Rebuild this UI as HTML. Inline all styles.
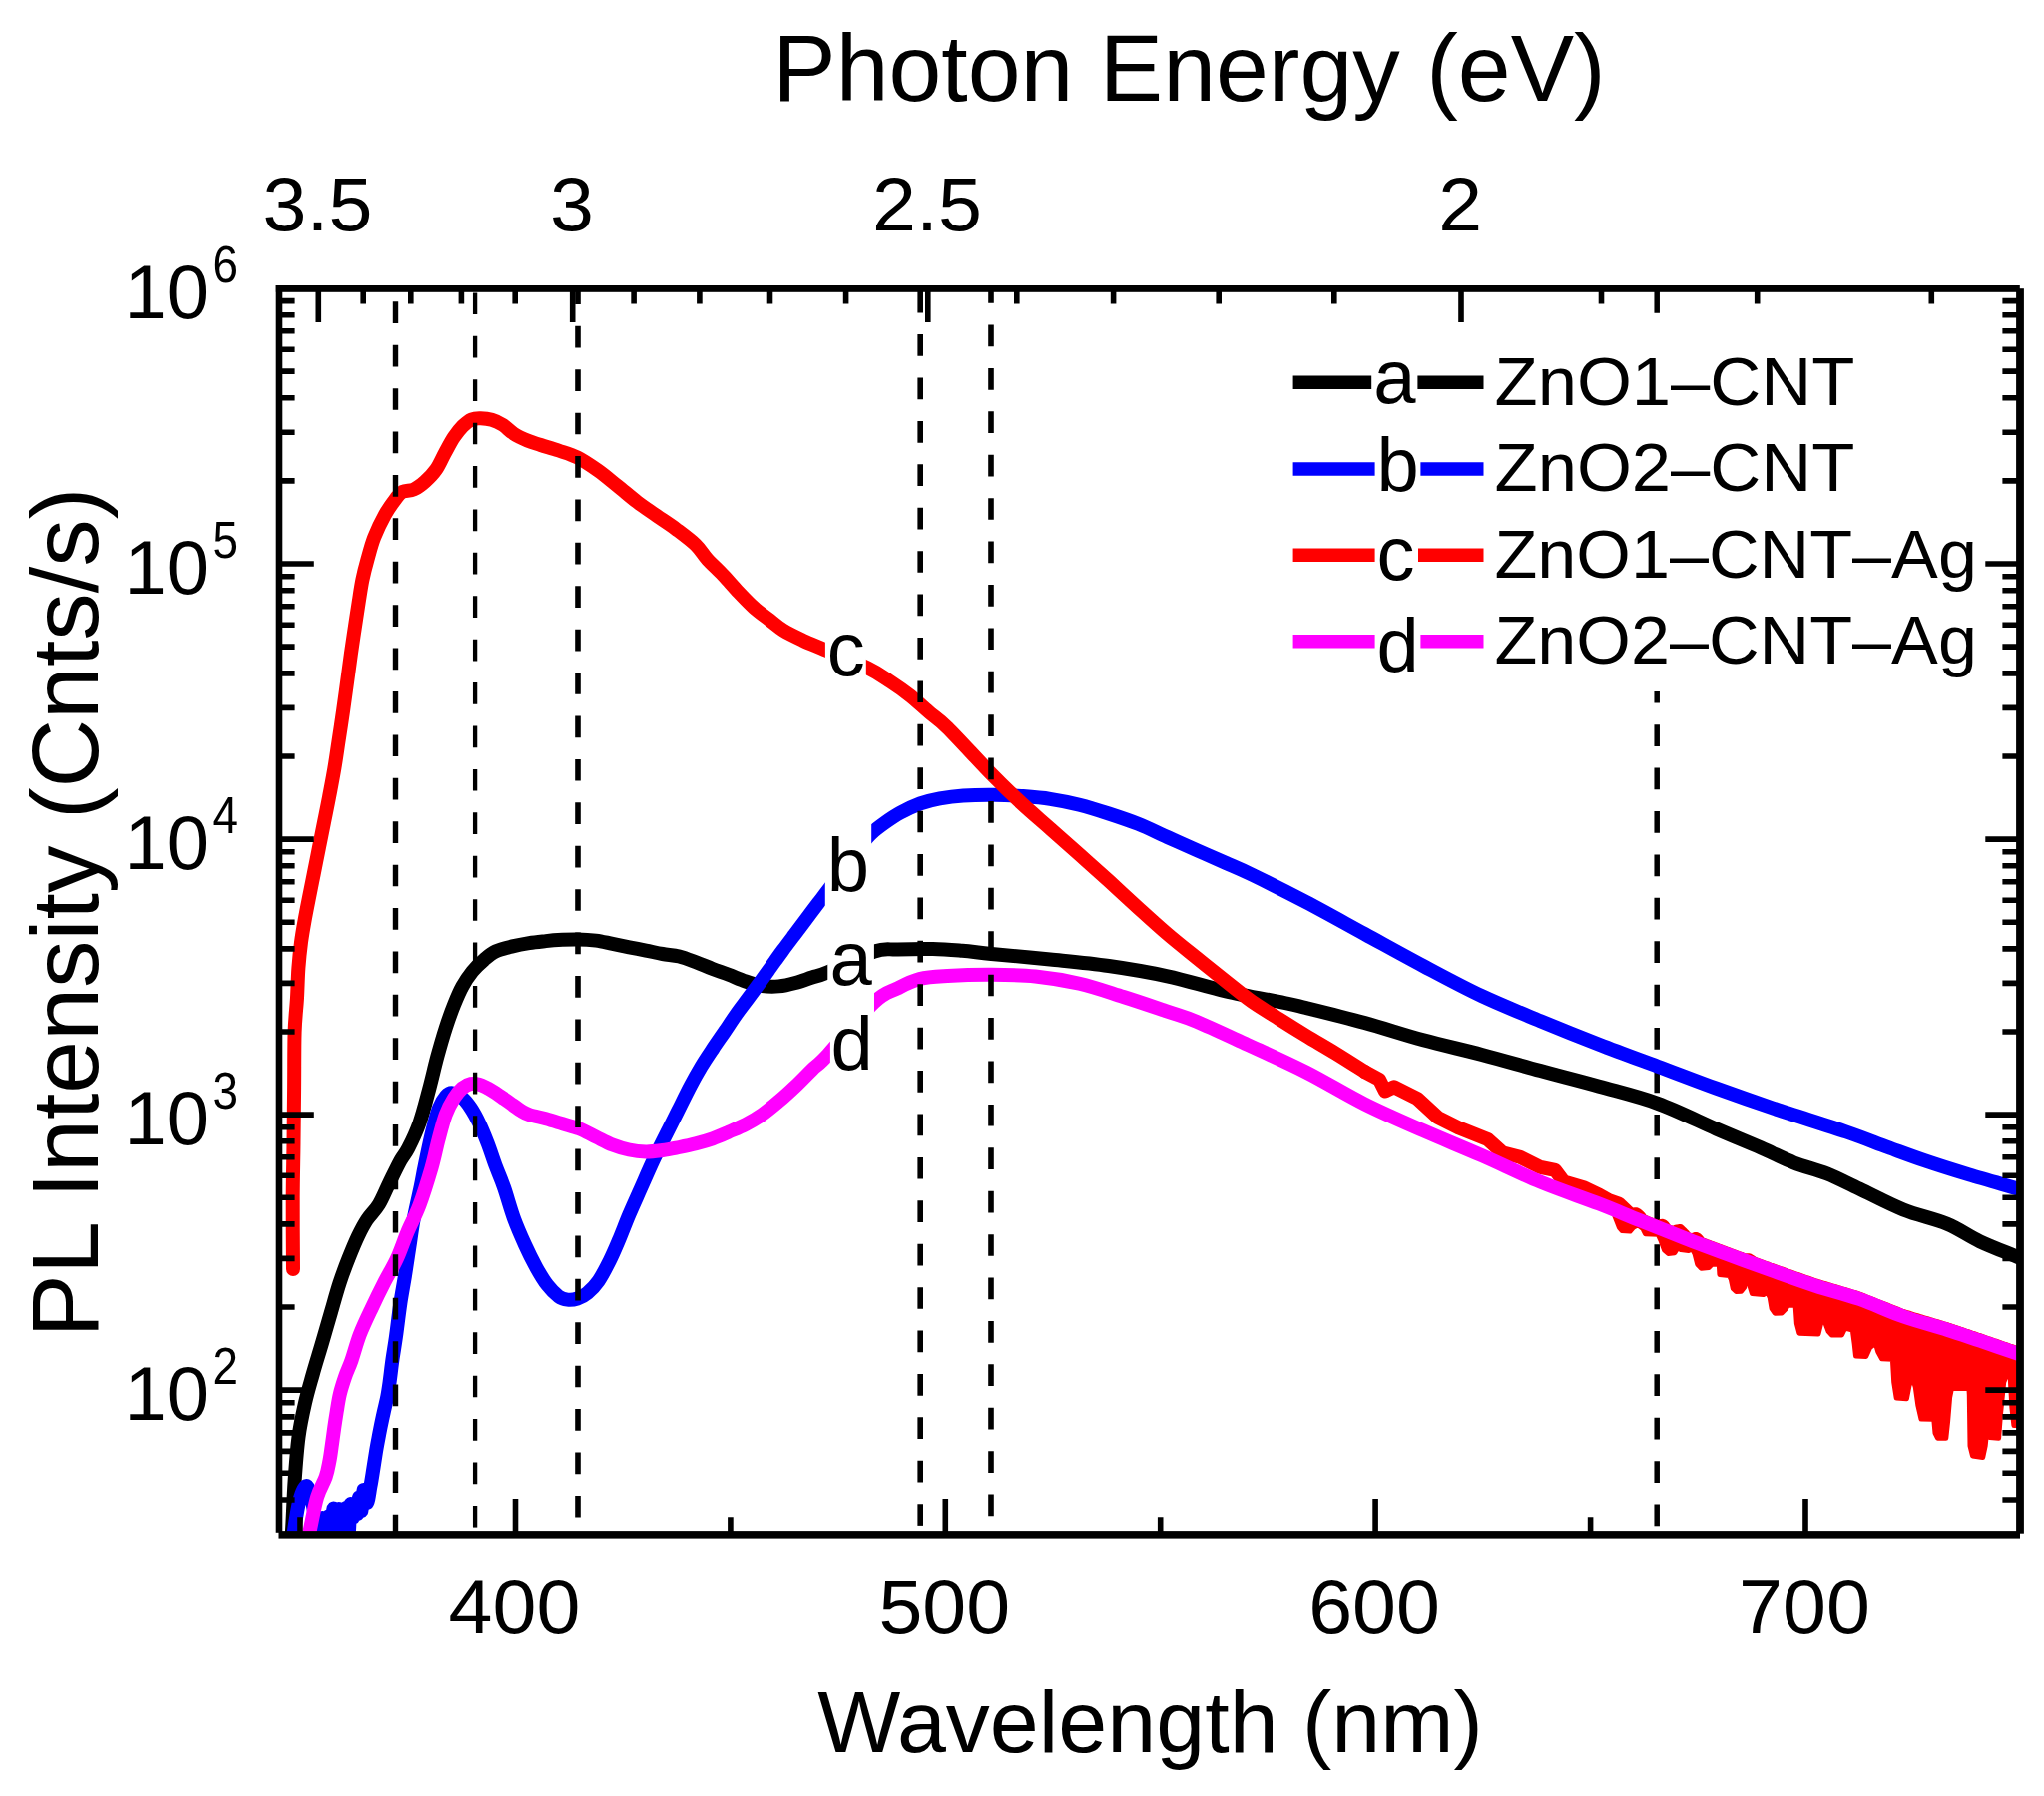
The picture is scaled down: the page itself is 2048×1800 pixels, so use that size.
<!DOCTYPE html>
<html lang="en"><head><meta charset="utf-8"><title>PL spectra</title>
<style>html,body{margin:0;padding:0;background:#fff;overflow:hidden}svg{display:block}text{font-family:"Liberation Sans", Arial, Helvetica, sans-serif;fill:#000}</style></head><body>
<svg width="2048" height="1800" viewBox="0 0 2048 1800">
<rect x="0" y="0" width="2048" height="1800" fill="#fff"/>
<defs><clipPath id="pc"><rect x="280.0" y="289.0" width="1744.0" height="1249.0"/></clipPath></defs>
<path d="M1660.2 248.7V1538.0" stroke="#000" stroke-width="5.5" stroke-dasharray="21.70 21.71" fill="none" clip-path="url(#pc)"/>
<g clip-path="url(#pc)" fill="none" stroke-linejoin="round" stroke-linecap="round" stroke-width="14.0">
<path stroke="#000" d="M291.0 1560.0C291.3 1555.7 292.2 1546.7 293.0 1534.0C293.8 1521.3 294.5 1499.7 295.6 1484.0C296.7 1468.3 297.8 1453.0 299.5 1440.0C301.2 1427.0 303.6 1416.5 306.0 1406.0C308.4 1395.5 311.0 1387.0 313.8 1377.0C316.6 1367.0 320.0 1356.3 323.0 1346.0C326.0 1335.7 329.1 1325.0 332.0 1315.0C334.9 1305.0 337.6 1294.9 340.5 1286.0C343.4 1277.1 346.4 1269.2 349.5 1261.4C352.6 1253.6 355.9 1245.5 359.0 1239.0C362.1 1232.5 364.5 1227.8 368.0 1222.5C371.5 1217.2 376.3 1213.2 380.0 1207.0C383.7 1200.8 386.7 1192.9 390.3 1185.6C393.9 1178.3 398.2 1169.2 401.4 1163.4C404.5 1157.6 406.0 1157.2 409.2 1151.0C412.4 1144.8 416.8 1135.8 420.3 1126.0C423.8 1116.2 427.0 1103.3 430.0 1092.1C433.0 1080.9 435.6 1069.0 438.4 1058.7C441.2 1048.4 443.9 1038.9 446.7 1030.3C449.5 1021.7 452.3 1013.9 455.1 1006.9C457.9 999.9 460.3 994.1 463.4 988.5C466.4 982.9 469.8 978.0 473.4 973.5C477.0 969.0 481.2 965.1 485.1 961.8C489.0 958.4 492.1 955.6 496.8 953.4C501.5 951.2 507.9 949.8 513.5 948.4C519.1 947.0 524.6 946.0 530.2 945.1C535.8 944.2 541.3 943.7 546.9 943.1C552.5 942.5 558.3 942.1 563.6 941.8C568.9 941.5 573.1 941.3 578.7 941.4C584.3 941.5 591.2 941.9 597.0 942.6C602.8 943.4 608.1 944.8 613.7 945.9C619.3 947.0 624.8 948.2 630.4 949.3C636.0 950.4 641.5 951.5 647.1 952.6C652.7 953.7 658.2 955.0 663.8 956.0C669.4 957.0 674.9 957.1 680.5 958.5C686.1 959.9 691.6 962.2 697.2 964.3C702.8 966.4 708.4 968.9 713.9 971.0C719.4 973.1 724.5 974.7 730.0 976.8C735.5 978.9 741.4 981.6 747.0 983.5C752.6 985.4 758.1 987.2 763.7 988.0C769.3 988.8 774.8 988.9 780.4 988.4C786.0 987.9 791.5 986.5 797.1 985.0C802.7 983.5 808.5 981.2 813.8 979.5C819.1 977.8 818.7 978.8 829.1 974.5C839.5 970.2 864.4 957.3 876.1 953.5C887.9 949.7 889.8 951.9 899.6 951.5C909.4 951.1 924.0 950.8 934.8 951.0C945.6 951.2 954.4 952.0 964.2 952.8C974.0 953.6 978.8 954.5 993.5 956.0C1008.2 957.5 1032.6 959.5 1052.2 961.5C1071.8 963.5 1091.3 965.2 1110.9 968.0C1130.5 970.8 1150.0 974.0 1169.6 978.3C1189.2 982.5 1208.7 989.0 1228.3 993.5C1247.9 998.0 1273.6 1002.2 1287.0 1005.0C1300.4 1007.8 1295.3 1006.7 1308.7 1010.0C1322.1 1013.3 1347.8 1019.6 1367.4 1025.0C1387.0 1030.4 1406.5 1037.0 1426.1 1042.3C1445.7 1047.6 1465.2 1051.8 1484.8 1056.9C1504.4 1062.0 1523.9 1067.8 1543.5 1073.1C1563.1 1078.4 1582.6 1083.2 1602.2 1088.7C1621.8 1094.2 1641.3 1098.7 1660.9 1105.8C1680.5 1112.9 1702.3 1124.0 1719.6 1131.5C1736.9 1139.0 1751.5 1144.8 1764.5 1150.5C1777.5 1156.2 1786.5 1161.1 1797.5 1165.4C1808.5 1169.7 1819.4 1171.9 1830.4 1176.3C1841.4 1180.7 1850.5 1185.7 1863.3 1191.7C1876.1 1197.7 1892.6 1206.7 1907.2 1212.5C1921.8 1218.3 1938.2 1221.5 1951.0 1226.8C1963.8 1232.1 1971.7 1238.6 1983.9 1244.3C1996.1 1250.0 2014.7 1257.0 2024.0 1261.0C2033.3 1265.0 2037.3 1266.8 2040.0 1268.0"/>
<path stroke="#00f" d="M291.0 1560.0C291.5 1556.7 292.5 1549.1 294.0 1540.0C295.5 1530.9 297.9 1513.8 300.0 1505.3C302.1 1496.8 304.8 1489.8 306.9 1489.2C309.0 1488.7 310.7 1495.2 312.5 1502.0C314.3 1508.8 316.2 1522.0 317.5 1530.0C318.8 1538.0 319.5 1551.5 320.5 1550.0C321.5 1548.5 322.5 1521.0 323.5 1521.0C324.5 1521.0 325.5 1550.2 326.5 1550.0C327.5 1549.8 328.6 1519.8 329.5 1519.5C330.4 1519.2 331.2 1549.3 332.0 1548.0C332.8 1546.7 333.6 1512.2 334.5 1511.5C335.4 1510.8 336.6 1543.9 337.5 1544.0C338.4 1544.1 339.2 1511.7 340.0 1512.0C340.8 1512.3 341.7 1542.8 342.5 1546.0C343.3 1549.2 344.2 1536.8 345.0 1531.0C345.8 1525.2 346.4 1509.8 347.2 1511.0C347.9 1512.2 348.8 1538.6 349.5 1538.0C350.2 1537.4 350.8 1510.3 351.5 1507.5C352.2 1504.7 353.2 1521.2 354.0 1521.0C354.8 1520.8 355.2 1507.2 356.0 1506.5C356.8 1505.8 357.8 1518.0 358.5 1517.0C359.2 1516.0 359.3 1501.0 360.0 1500.5C360.7 1500.0 361.8 1515.2 362.5 1514.0C363.2 1512.8 363.6 1494.3 364.5 1493.0C365.4 1491.7 366.8 1506.7 368.0 1506.0C369.2 1505.3 370.4 1494.7 371.5 1489.0C372.6 1483.3 373.4 1477.5 374.3 1472.0C375.2 1466.5 376.0 1461.0 376.8 1456.0C377.6 1451.0 378.5 1446.3 379.3 1442.0C380.1 1437.7 380.7 1434.5 381.6 1430.0C382.5 1425.5 383.7 1420.0 384.8 1415.0C385.9 1410.0 387.2 1405.0 388.2 1400.0C389.2 1395.0 389.7 1391.4 390.6 1385.0C391.5 1378.6 392.5 1369.2 393.6 1361.6C394.7 1354.0 395.7 1348.7 397.0 1339.4C398.3 1330.1 399.9 1315.9 401.4 1305.9C402.9 1295.9 404.4 1288.5 405.9 1279.2C407.4 1269.9 408.8 1259.9 410.3 1250.2C411.8 1240.5 412.9 1231.3 414.8 1221.3C416.7 1211.3 419.6 1199.0 421.5 1190.1C423.4 1181.2 423.9 1177.1 425.9 1167.7C427.9 1158.3 430.9 1143.3 433.3 1133.8C435.7 1124.3 437.8 1116.3 440.0 1110.5C442.2 1104.7 444.5 1101.3 446.7 1098.8C448.9 1096.3 450.6 1095.1 453.4 1095.4C456.2 1095.7 460.3 1097.9 463.4 1100.4C466.5 1102.9 469.0 1106.3 471.8 1110.5C474.6 1114.7 477.3 1119.7 480.1 1125.5C482.9 1131.3 485.7 1138.3 488.5 1145.5C491.3 1152.7 494.0 1161.4 496.8 1168.9C499.6 1176.4 502.2 1181.9 505.2 1190.6C508.2 1199.3 511.5 1211.7 515.0 1221.3C518.5 1230.9 522.5 1239.8 526.2 1248.0C529.9 1256.2 533.6 1263.6 537.3 1270.3C541.0 1277.0 544.8 1283.3 548.5 1288.1C552.2 1292.9 556.3 1296.9 559.6 1299.3C562.9 1301.7 565.4 1302.2 568.5 1302.6C571.6 1303.0 575.1 1302.6 578.5 1301.5C581.9 1300.4 585.1 1298.9 588.6 1295.9C592.1 1292.9 596.0 1289.1 599.7 1283.7C603.4 1278.3 607.4 1270.4 610.8 1263.6C614.2 1256.8 616.7 1250.8 620.0 1243.0C623.3 1235.2 626.8 1225.7 630.5 1217.0C634.2 1208.3 638.1 1199.8 642.0 1191.0C645.9 1182.2 650.0 1172.6 654.0 1164.0C658.0 1155.4 661.8 1148.0 666.0 1139.6C670.2 1131.2 674.7 1122.3 679.0 1113.7C683.3 1105.1 688.1 1095.2 692.0 1087.8C695.9 1080.3 698.8 1075.2 702.5 1069.0C706.2 1062.8 710.5 1056.5 714.5 1050.5C718.5 1044.5 722.6 1038.8 726.5 1033.0C730.4 1027.2 734.2 1021.4 738.0 1016.0C741.8 1010.6 745.7 1005.7 749.5 1000.5C753.3 995.3 757.2 990.2 761.0 985.0C764.8 979.8 768.7 974.3 772.5 969.0C776.3 963.7 780.1 958.3 784.0 953.0C787.9 947.7 792.0 942.3 796.0 937.0C800.0 931.7 804.0 926.3 808.0 921.0C812.0 915.7 816.9 909.1 820.0 905.0C823.1 900.9 824.0 899.8 826.5 896.5C829.0 893.2 831.1 890.4 835.0 885.0C838.9 879.6 845.5 870.2 850.0 864.0C854.5 857.8 858.1 852.8 862.0 848.0C865.9 843.2 869.1 839.0 873.3 835.1C877.5 831.2 882.1 827.9 887.0 824.4C891.9 820.9 896.7 817.6 902.6 814.4C908.5 811.2 915.7 807.8 922.2 805.4C928.7 803.0 934.6 801.6 941.8 800.3C949.0 799.0 956.1 798.0 965.2 797.4C974.3 796.8 987.0 796.6 996.6 796.7C1006.2 796.8 1013.6 797.2 1022.9 797.9C1032.2 798.6 1042.4 799.3 1052.2 800.8C1062.0 802.3 1071.8 804.2 1081.6 806.7C1091.4 809.2 1101.1 812.3 1110.9 815.5C1120.7 818.7 1130.5 821.9 1140.3 825.8C1150.1 829.7 1159.8 834.6 1169.6 839.0C1179.4 843.4 1189.2 847.9 1199.0 852.2C1208.8 856.5 1219.1 861.0 1228.3 865.0C1237.5 869.0 1240.6 870.0 1254.0 876.5C1267.4 883.0 1289.8 894.1 1308.7 904.0C1327.6 913.9 1347.8 925.3 1367.4 936.0C1387.0 946.7 1406.5 957.6 1426.1 968.0C1445.7 978.4 1465.2 989.0 1484.8 998.2C1504.4 1007.4 1523.9 1015.1 1543.5 1023.2C1563.1 1031.3 1582.6 1039.1 1602.2 1046.7C1621.8 1054.3 1641.3 1061.4 1660.9 1068.7C1680.5 1076.0 1700.0 1083.6 1719.6 1090.7C1739.2 1097.8 1756.6 1103.9 1778.3 1111.2C1800.0 1118.5 1831.1 1128.0 1850.0 1134.5C1868.9 1141.0 1878.6 1145.2 1891.8 1150.0C1905.0 1154.8 1915.5 1158.8 1929.0 1163.4C1942.5 1168.0 1957.2 1172.6 1973.0 1177.4C1988.8 1182.2 2012.8 1188.7 2024.0 1192.0C2035.2 1195.3 2037.3 1196.2 2040.0 1197.0"/>
<path stroke="#f00" d="M294.0 1272.0C293.9 1260.0 293.6 1221.1 293.7 1200.0C293.8 1178.9 294.3 1163.8 294.5 1145.4C294.7 1127.0 294.9 1108.3 295.1 1089.8C295.3 1071.2 295.1 1049.1 295.6 1034.1C296.1 1019.1 297.4 1010.7 298.0 1000.0C298.6 989.3 298.7 979.3 299.4 970.0C300.1 960.7 301.0 952.1 302.0 944.4C303.0 936.7 304.0 931.1 305.3 923.9C306.6 916.6 308.1 909.0 309.7 900.9C311.3 892.8 313.1 883.8 314.8 875.3C316.5 866.8 318.2 858.2 319.9 849.7C321.6 841.2 323.3 832.6 325.0 824.1C326.7 815.6 328.4 807.5 330.1 798.5C331.8 789.5 333.7 779.8 335.3 770.4C336.9 761.0 338.1 752.0 339.6 742.2C341.1 732.4 342.8 721.3 344.2 711.5C345.6 701.7 346.8 692.7 348.1 683.3C349.4 673.9 350.6 664.2 351.9 655.2C353.2 646.2 354.4 638.1 355.7 629.6C357.0 621.1 358.3 612.1 359.6 604.0C360.9 595.9 361.9 588.2 363.4 581.0C364.9 573.8 366.5 567.6 368.5 560.5C370.5 553.4 372.3 545.9 375.2 538.5C378.1 531.1 382.2 522.6 385.8 516.1C389.4 509.6 394.0 503.3 397.0 499.4C400.0 495.5 400.7 494.2 403.7 492.7C406.7 491.2 411.1 492.2 414.8 490.5C418.5 488.8 422.2 486.0 425.9 482.7C429.6 479.4 433.8 475.3 437.1 470.5C440.5 465.7 443.0 459.2 446.0 453.8C449.0 448.4 451.9 442.7 454.9 438.2C457.9 433.7 460.8 430.0 463.8 427.0C466.8 424.0 469.7 421.6 472.7 420.3C475.7 419.0 478.2 419.1 481.6 419.2C485.0 419.3 489.1 419.7 492.8 420.8C496.5 421.9 500.2 423.6 503.9 425.9C507.6 428.2 510.9 432.2 515.0 434.8C519.1 437.4 523.9 439.6 528.4 441.5C532.9 443.4 536.6 444.3 541.8 446.0C547.0 447.7 553.5 449.4 559.6 451.5C565.7 453.6 572.0 455.2 578.6 458.5C585.2 461.8 592.4 466.8 599.1 471.5C605.8 476.2 612.2 481.8 618.7 487.0C625.2 492.2 631.8 498.0 638.3 503.0C644.8 508.0 651.3 512.2 657.8 516.8C664.3 521.3 670.9 525.4 677.4 530.3C683.9 535.2 691.8 541.0 697.0 546.0C702.2 551.0 704.1 555.5 708.7 560.5C713.3 565.5 719.2 570.8 724.4 576.3C729.6 581.8 734.8 588.0 740.0 593.5C745.2 599.0 750.5 604.6 755.7 609.3C760.9 613.9 766.4 617.6 771.3 621.4C776.2 625.1 779.5 628.4 785.0 631.8C790.5 635.2 797.8 638.6 804.6 641.8C811.5 645.0 815.3 646.4 826.1 651.0C836.9 655.6 858.1 663.9 869.2 669.3C880.3 674.7 885.5 678.8 892.7 683.5C899.9 688.2 905.8 692.3 912.3 697.5C918.8 702.7 925.6 709.2 931.8 714.5C938.0 719.8 939.2 719.3 949.5 729.5C959.8 739.7 981.3 763.4 993.5 775.9C1005.7 788.4 1013.1 795.4 1022.9 804.5C1032.7 813.6 1042.4 821.7 1052.2 830.4C1062.0 839.1 1071.8 847.8 1081.6 856.5C1091.4 865.2 1101.1 873.9 1110.9 882.8C1120.7 891.7 1130.5 900.9 1140.3 909.8C1150.1 918.7 1159.8 927.6 1169.6 936.0C1179.4 944.4 1189.2 952.1 1199.0 960.0C1208.8 967.9 1219.1 976.2 1228.3 983.5C1237.5 990.8 1244.9 997.1 1254.0 1003.5C1263.1 1009.9 1273.9 1016.2 1283.0 1022.0C1292.1 1027.8 1299.5 1032.4 1308.7 1038.0C1317.9 1043.6 1328.3 1049.5 1338.1 1055.5C1347.9 1061.5 1362.5 1070.9 1367.4 1074.0"/>
<path stroke="#f00" d="M1367.4 1074.0L1382.1 1081.9L1388.0 1093.6L1396.8 1089.2L1420.2 1101.0L1440.8 1120.0L1461.3 1130.3L1490.7 1142.0L1505.4 1155.3L1523.0 1159.7L1543.5 1169.9L1558.2 1172.9L1567.0 1184.6L1587.5 1190.5L1602.2 1197.5L1612.0 1203.0L1622.0 1206.5L1632.0 1216.0"/>
<path stroke="#f00" stroke-width="5" fill="#f00" d="M1618.0 1204.9L1620.0 1205.0L1622.0 1205.2L1624.0 1206.7L1626.0 1208.4L1628.0 1210.2L1630.0 1212.9L1632.0 1213.7L1634.0 1214.1L1636.0 1213.1L1638.0 1212.8L1640.0 1212.8L1642.0 1213.7L1644.0 1215.4L1646.0 1217.3L1648.0 1220.1L1650.0 1220.9L1652.0 1221.7L1654.0 1222.5L1656.0 1223.3L1658.0 1224.1L1660.0 1224.9L1662.0 1225.7L1664.0 1224.5L1666.0 1224.2L1668.0 1225.0L1670.0 1226.9L1672.0 1229.7L1674.0 1230.5L1676.0 1231.3L1678.0 1230.5L1680.0 1229.9L1682.0 1229.6L1684.0 1229.5L1686.0 1231.2L1688.0 1233.1L1690.0 1235.3L1692.0 1237.6L1694.0 1238.3L1696.0 1238.4L1698.0 1237.6L1700.0 1237.4L1702.0 1238.4L1704.0 1240.3L1706.0 1242.9L1708.0 1243.6L1710.0 1244.4L1712.0 1245.1L1714.0 1245.9L1716.0 1246.6L1718.0 1247.4L1720.0 1248.1L1722.0 1248.9L1724.0 1249.6L1726.0 1250.4L1728.0 1251.1L1730.0 1251.9L1732.0 1252.6L1734.0 1253.4L1736.0 1254.1L1738.0 1254.8L1740.0 1255.6L1742.0 1256.3L1744.0 1257.0L1746.0 1257.7L1748.0 1258.5L1750.0 1258.7L1752.0 1258.8L1754.0 1259.3L1756.0 1260.6L1758.0 1262.1L1760.0 1262.9L1762.0 1263.6L1764.0 1264.3L1766.0 1265.0L1768.0 1265.8L1770.0 1266.5L1772.0 1267.2L1774.0 1268.0L1776.0 1268.7L1778.0 1269.4L1780.0 1270.1L1782.0 1270.8L1784.0 1271.5L1786.0 1272.2L1788.0 1272.9L1790.0 1273.6L1792.0 1274.3L1794.0 1274.9L1796.0 1275.6L1798.0 1276.3L1800.0 1277.0L1802.0 1277.7L1804.0 1278.4L1806.0 1279.1L1808.0 1279.8L1810.0 1280.5L1812.0 1281.2L1814.0 1281.9L1816.0 1282.6L1818.0 1283.3L1820.0 1284.0L1822.0 1284.6L1824.0 1285.2L1826.0 1285.8L1828.0 1286.4L1830.0 1287.0L1832.0 1287.6L1834.0 1288.2L1836.0 1288.8L1838.0 1289.4L1840.0 1290.0L1842.0 1290.6L1844.0 1291.2L1846.0 1291.8L1848.0 1292.4L1850.0 1293.0L1852.0 1293.6L1854.0 1294.2L1856.0 1294.8L1858.0 1295.4L1860.0 1296.0L1862.0 1296.6L1864.0 1297.3L1866.0 1298.1L1868.0 1298.9L1870.0 1299.7L1872.0 1300.5L1874.0 1301.3L1876.0 1302.1L1878.0 1302.9L1880.0 1303.7L1882.0 1304.5L1884.0 1305.3L1886.0 1306.0L1888.0 1306.8L1890.0 1307.6L1892.0 1308.4L1894.0 1309.2L1896.0 1310.0L1898.0 1310.8L1900.0 1311.6L1902.0 1312.4L1904.0 1313.2L1906.0 1314.0L1908.0 1314.7L1910.0 1315.3L1912.0 1315.9L1914.0 1316.5L1916.0 1317.2L1918.0 1317.8L1920.0 1318.4L1922.0 1319.0L1924.0 1319.6L1926.0 1320.2L1928.0 1320.8L1930.0 1321.4L1932.0 1322.0L1934.0 1322.6L1936.0 1323.2L1938.0 1323.8L1940.0 1324.4L1942.0 1325.0L1944.0 1325.6L1946.0 1326.2L1948.0 1326.8L1950.0 1327.4L1952.0 1328.0L1954.0 1328.7L1956.0 1329.4L1958.0 1330.0L1960.0 1330.7L1962.0 1331.4L1964.0 1332.0L1966.0 1332.7L1968.0 1333.4L1970.0 1334.1L1972.0 1334.7L1974.0 1335.4L1976.0 1336.1L1978.0 1336.7L1980.0 1337.4L1982.0 1338.1L1984.0 1338.7L1986.0 1339.4L1988.0 1340.1L1990.0 1340.8L1992.0 1341.5L1994.0 1342.2L1996.0 1342.9L1998.0 1343.6L2000.0 1344.2L2002.0 1344.9L2004.0 1345.6L2006.0 1346.3L2008.0 1347.0L2010.0 1347.7L2012.0 1348.4L2014.0 1349.1L2016.0 1349.7L2018.0 1350.4L2020.0 1351.1L2022.0 1351.8L2024.0 1352.5L2026.0 1353.2L2028.0 1353.9L2030.0 1354.6L2032.0 1355.2L2034.0 1355.9L2036.0 1356.6L2038.0 1357.3L2040.0 1358.0L2028.0 1428.4L2017.9 1428.4L2015.9 1410.6L2014.0 1376.3L2010.9 1377.6L2007.7 1385.2L2004.5 1417.0L2002.6 1441.2L1993.7 1440.5L1990.5 1436.1L1989.2 1448.8L1986.7 1460.5L1976.5 1459.0L1974.0 1448.8L1973.3 1397.9L1972.1 1378.8L1970.2 1391.6L1958.1 1391.6L1956.2 1387.7L1953.6 1400.5L1951.7 1423.4L1949.8 1441.2L1941.5 1441.2L1939.0 1436.1L1937.3 1417.0L1935.8 1422.3L1925.0 1422.1L1921.8 1408.1L1919.3 1390.3L1916.1 1380.1L1912.9 1389.0L1910.4 1401.7L1900.2 1401.1L1897.7 1385.2L1896.4 1362.3L1885.6 1361.7L1881.8 1354.7L1879.2 1345.8L1873.5 1350.9L1869.7 1359.5L1859.5 1359.1L1858.2 1347.0L1856.3 1333.0L1848.7 1331.1L1845.5 1337.9L1835.3 1337.9L1832.1 1334.3L1826.4 1319.1L1823.9 1329.2L1822.0 1336.9L1802.9 1336.2L1800.4 1326.7L1799.1 1308.2L1791.4 1308.2L1789.5 1311.4L1785.1 1315.9L1778.2 1316.2L1775.1 1311.7L1773.2 1300.3L1770.6 1295.2L1766.8 1297.5L1755.4 1296.5L1753.4 1290.1L1750.9 1277.4L1747.7 1290.1L1744.5 1294.2L1739.5 1294.6L1736.3 1291.4L1734.4 1282.5L1732.5 1278.4L1722.9 1277.4L1722.3 1267.2L1715.3 1267.2L1712.1 1270.4L1704.5 1271.3L1700.7 1267.2L1698.1 1257.0L1695.6 1251.9L1691.8 1253.5L1684.1 1252.6L1680.9 1250.7L1677.8 1255.8L1671.4 1256.4L1667.6 1253.2L1664.4 1244.3L1661.2 1237.3L1648.5 1236.7L1646.0 1231.6L1640.9 1227.8L1636.4 1230.3L1633.2 1234.1L1625.0 1233.5L1622.4 1230.3L1618.0 1219.0Z"/>
<path stroke="#f0f" d="M305.0 1560.0C305.9 1555.7 308.4 1544.3 310.6 1534.3C312.8 1524.3 315.4 1509.2 318.1 1500.2C320.8 1491.2 324.6 1486.1 326.7 1480.0C328.8 1473.9 329.4 1469.1 330.5 1463.6C331.6 1458.1 332.2 1452.6 333.0 1447.0C333.8 1441.4 334.5 1435.7 335.3 1430.2C336.1 1424.7 336.9 1419.6 337.8 1414.0C338.7 1408.4 339.5 1402.5 340.9 1396.8C342.3 1391.1 344.1 1385.6 346.0 1380.0C347.9 1374.4 350.0 1370.6 352.5 1363.4C355.0 1356.2 357.6 1345.9 361.0 1337.1C364.4 1328.3 369.0 1318.9 373.0 1310.4C377.0 1301.9 380.8 1294.1 385.0 1285.9C389.2 1277.7 394.1 1269.9 398.0 1261.4C401.9 1252.9 404.8 1243.6 408.5 1234.7C412.2 1225.8 416.5 1218.6 420.5 1207.9C424.5 1197.2 429.3 1181.5 432.5 1170.6C435.7 1159.6 437.1 1151.1 439.5 1142.2C441.9 1133.3 444.1 1124.1 446.7 1117.1C449.3 1110.1 452.3 1104.9 455.1 1100.4C457.9 1096.0 460.6 1092.8 463.4 1090.4C466.2 1088.0 469.0 1086.8 471.8 1086.2C474.6 1085.6 477.3 1086.0 480.1 1086.7C482.9 1087.4 485.7 1089.0 488.5 1090.4C491.3 1091.9 494.0 1093.6 496.8 1095.4C499.6 1097.2 502.4 1099.3 505.2 1101.3C508.0 1103.2 510.7 1105.1 513.5 1107.1C516.3 1109.0 519.1 1111.3 521.9 1113.0C524.7 1114.7 526.0 1115.7 530.2 1117.1C534.4 1118.5 541.3 1119.8 546.9 1121.3C552.5 1122.8 558.0 1124.6 563.6 1126.3C569.2 1128.0 574.7 1129.1 580.3 1131.3C585.9 1133.5 591.4 1136.8 597.0 1139.5C602.6 1142.2 608.1 1145.3 613.7 1147.5C619.3 1149.7 624.8 1151.3 630.4 1152.5C636.0 1153.7 641.5 1154.3 647.1 1154.4C652.7 1154.5 658.2 1153.7 663.8 1153.0C669.4 1152.3 674.9 1151.1 680.5 1150.0C686.1 1148.9 691.6 1147.8 697.2 1146.3C702.8 1144.8 708.4 1143.2 713.9 1141.3C719.4 1139.3 724.5 1137.0 730.0 1134.6C735.5 1132.2 741.4 1129.9 747.0 1127.0C752.6 1124.1 758.1 1120.9 763.7 1117.0C769.3 1113.1 774.8 1108.4 780.4 1103.7C786.0 1099.0 791.5 1093.9 797.1 1088.6C802.7 1083.3 808.4 1077.2 813.8 1071.9C819.2 1066.6 819.4 1068.1 829.7 1056.9C840.0 1045.7 864.0 1015.9 875.6 1004.8C887.2 993.7 891.6 994.5 899.3 990.5C907.0 986.5 913.2 983.1 921.6 981.0C930.0 978.9 937.5 978.7 949.5 978.0C961.5 977.3 978.8 976.7 993.5 976.8C1008.2 976.9 1022.8 977.0 1037.5 978.5C1052.2 980.0 1066.9 982.4 1081.6 985.8C1096.3 989.2 1110.9 994.4 1125.6 999.0C1140.3 1003.6 1157.4 1009.5 1169.6 1013.6C1181.8 1017.8 1185.6 1018.3 1199.0 1023.9C1212.4 1029.5 1231.7 1038.6 1250.0 1047.0C1268.3 1055.4 1289.1 1064.6 1308.7 1074.5C1328.3 1084.4 1347.8 1096.7 1367.4 1106.5C1387.0 1116.3 1406.5 1124.6 1426.1 1133.2C1445.7 1141.8 1465.2 1149.6 1484.8 1158.2C1504.4 1166.8 1523.9 1176.5 1543.5 1184.6C1563.1 1192.7 1585.5 1200.1 1602.2 1206.6C1618.9 1213.1 1629.6 1217.8 1643.9 1223.5C1658.2 1229.2 1673.2 1235.3 1687.8 1241.0C1702.4 1246.7 1717.0 1252.1 1731.6 1257.5C1746.2 1262.9 1760.9 1268.3 1775.5 1273.5C1790.1 1278.7 1804.8 1284.0 1819.4 1288.8C1834.0 1293.5 1848.7 1296.9 1863.3 1302.0C1877.9 1307.1 1892.6 1314.4 1907.2 1319.5C1921.8 1324.6 1938.2 1328.7 1951.0 1332.7C1963.8 1336.7 1971.7 1339.6 1983.9 1343.7C1996.1 1347.8 2014.7 1354.3 2024.0 1357.5C2033.3 1360.7 2037.3 1362.1 2040.0 1363.0"/>
</g>
<g stroke="#000" fill="none" clip-path="url(#pc)">
<path d="M396.5 258.9V1538.0" stroke-width="5.4" stroke-dasharray="21.70 21.71"/>
<path d="M476.1 250.0V1538.0" stroke-width="4.3" stroke-dasharray="21.70 21.71"/>
<path d="M579.0 240.0V1538.0" stroke-width="5.6" stroke-dasharray="21.70 21.71"/>
<path d="M922.2 248.3V1538.0" stroke-width="5.6" stroke-dasharray="21.70 21.71"/>
<path d="M993.0 238.7V1538.0" stroke-width="5.6" stroke-dasharray="21.70 21.71"/>
</g>
<rect x="826.9" y="599.3" width="40.9" height="106.0" fill="#fff"/>
<rect x="826.8" y="814.6" width="46.4" height="106.0" fill="#fff"/>
<rect x="829.3" y="908.5" width="46.6" height="106.0" fill="#fff"/>
<rect x="831.9" y="993.9" width="44.0" height="106.0" fill="#fff"/>
<text x="828.7" y="677.3" font-size="76">c</text>
<text x="828.8" y="892.6" font-size="76">b</text>
<text x="831.4" y="986.5" font-size="76">a</text>
<text x="832.5" y="1071.9" font-size="76">d</text>
<rect x="1285" y="315" width="712" height="378" fill="#fff"/>
<path d="M1295.6 383.3H1374.2M1420.4 383.3H1486.5" stroke="#000" stroke-width="13.6" fill="none"/>
<text x="1376.2" y="404.4" font-size="76">a</text>
<text x="1497.5" y="406.0" font-size="68" textLength="361.0" lengthAdjust="spacingAndGlyphs">ZnO1–CNT</text>
<path d="M1295.6 470.0H1377.6M1423.4 470.0H1486.5" stroke="#00f" stroke-width="13.6" fill="none"/>
<text x="1379.6" y="492.0" font-size="76">b</text>
<text x="1497.5" y="492.4" font-size="68" textLength="361.0" lengthAdjust="spacingAndGlyphs">ZnO2–CNT</text>
<path d="M1295.6 556.2H1377.6M1421.0 556.2H1486.5" stroke="#f00" stroke-width="13.6" fill="none"/>
<text x="1379.6" y="580.7" font-size="76">c</text>
<text x="1497.5" y="578.8" font-size="68" textLength="483.4" lengthAdjust="spacingAndGlyphs">ZnO1–CNT–Ag</text>
<path d="M1295.6 642.8H1377.6M1423.4 642.8H1486.5" stroke="#f0f" stroke-width="13.6" fill="none"/>
<text x="1379.6" y="673.2" font-size="76">d</text>
<text x="1497.5" y="665.2" font-size="68" textLength="483.4" lengthAdjust="spacingAndGlyphs">ZnO2–CNT–Ag</text>
<path d="M301.0 1538.0v-17.7M516.5 1538.0v-36.0M731.9 1538.0v-17.7M947.3 1538.0v-36.0M1162.7 1538.0v-17.7M1378.1 1538.0v-36.0M1593.6 1538.0v-17.7M1809.0 1538.0v-36.0M1935.3 289.0v15.6M1760.7 289.0v15.6M1604.5 289.0v15.6M1464.0 289.0v34.0M1336.8 289.0v15.6M1221.2 289.0v15.6M1115.6 289.0v15.6M1018.8 289.0v15.6M929.8 289.0v34.0M847.6 289.0v15.6M771.5 289.0v15.6M700.9 289.0v15.6M635.1 289.0v15.6M573.7 289.0v34.0M516.2 289.0v15.6M462.4 289.0v15.6M411.8 289.0v15.6M364.2 289.0v15.6M319.3 289.0v34.0M280.0 1503.0h15.6M2024.0 1503.0h-17.6M280.0 1476.2h15.6M2024.0 1476.2h-17.6M280.0 1454.4h15.6M2024.0 1454.4h-17.6M280.0 1435.9h15.6M2024.0 1435.9h-17.6M280.0 1419.9h15.6M2024.0 1419.9h-17.6M280.0 1405.8h15.6M2024.0 1405.8h-17.6M280.0 1393.1h34.8M2024.0 1393.1h-34.7M280.0 1310.0h15.6M2024.0 1310.0h-17.6M280.0 1261.4h15.6M2024.0 1261.4h-17.6M280.0 1226.9h15.6M2024.0 1226.9h-17.6M280.0 1200.2h15.6M2024.0 1200.2h-17.6M280.0 1178.3h15.6M2024.0 1178.3h-17.6M280.0 1159.8h15.6M2024.0 1159.8h-17.6M280.0 1143.8h15.6M2024.0 1143.8h-17.6M280.0 1129.7h15.6M2024.0 1129.7h-17.6M280.0 1117.1h34.8M2024.0 1117.1h-34.7M280.0 1034.0h15.6M2024.0 1034.0h-17.6M280.0 985.4h15.6M2024.0 985.4h-17.6M280.0 950.9h15.6M2024.0 950.9h-17.6M280.0 924.2h15.6M2024.0 924.2h-17.6M280.0 902.3h15.6M2024.0 902.3h-17.6M280.0 883.8h15.6M2024.0 883.8h-17.6M280.0 867.8h15.6M2024.0 867.8h-17.6M280.0 853.7h15.6M2024.0 853.7h-17.6M280.0 841.1h34.8M2024.0 841.1h-34.7M280.0 758.0h15.6M2024.0 758.0h-17.6M280.0 709.4h15.6M2024.0 709.4h-17.6M280.0 674.9h15.6M2024.0 674.9h-17.6M280.0 648.1h15.6M2024.0 648.1h-17.6M280.0 626.3h15.6M2024.0 626.3h-17.6M280.0 607.8h15.6M2024.0 607.8h-17.6M280.0 591.8h15.6M2024.0 591.8h-17.6M280.0 577.7h15.6M2024.0 577.7h-17.6M280.0 565.0h34.8M2024.0 565.0h-34.7M280.0 481.9h15.6M2024.0 481.9h-17.6M280.0 433.3h15.6M2024.0 433.3h-17.6M280.0 398.8h15.6M2024.0 398.8h-17.6M280.0 372.1h15.6M2024.0 372.1h-17.6M280.0 350.2h15.6M2024.0 350.2h-17.6M280.0 331.8h15.6M2024.0 331.8h-17.6M280.0 315.8h15.6M2024.0 315.8h-17.6M280.0 301.6h15.6M2024.0 301.6h-17.6" stroke="#000" stroke-width="5.6" fill="none"/>
<rect x="276.7" y="286.0" width="6.6" height="1249.8" fill="#000"/>
<rect x="2020.1" y="289.2" width="7.8" height="1247.5" fill="#000"/>
<rect x="276.8" y="286.0" width="1747.0" height="6.8" fill="#000"/>
<rect x="279.5" y="1534.1" width="1744.5" height="7.5" fill="#000"/>
<text x="515.5" y="1637.0" font-size="76" text-anchor="middle" textLength="131.8" lengthAdjust="spacingAndGlyphs">400</text>
<text x="946.3" y="1637.0" font-size="76" text-anchor="middle" textLength="131.8" lengthAdjust="spacingAndGlyphs">500</text>
<text x="1377.1" y="1637.0" font-size="76" text-anchor="middle" textLength="131.8" lengthAdjust="spacingAndGlyphs">600</text>
<text x="1808.0" y="1637.0" font-size="76" text-anchor="middle" textLength="131.8" lengthAdjust="spacingAndGlyphs">700</text>
<text x="318.5" y="231.0" font-size="76" text-anchor="middle" textLength="109.9" lengthAdjust="spacingAndGlyphs">3.5</text>
<text x="572.9" y="231.0" font-size="76" text-anchor="middle" textLength="43.9" lengthAdjust="spacingAndGlyphs">3</text>
<text x="929.0" y="231.0" font-size="76" text-anchor="middle" textLength="109.9" lengthAdjust="spacingAndGlyphs">2.5</text>
<text x="1463.2" y="231.0" font-size="76" text-anchor="middle" textLength="43.9" lengthAdjust="spacingAndGlyphs">2</text>
<text x="209" y="1423.1" font-size="76" text-anchor="end">10</text>
<text x="212.5" y="1386.6" font-size="52" textLength="25.5" lengthAdjust="spacingAndGlyphs">2</text>
<text x="209" y="1147.1" font-size="76" text-anchor="end">10</text>
<text x="212.5" y="1110.6" font-size="52" textLength="25.5" lengthAdjust="spacingAndGlyphs">3</text>
<text x="209" y="871.1" font-size="76" text-anchor="end">10</text>
<text x="212.5" y="834.6" font-size="52" textLength="25.5" lengthAdjust="spacingAndGlyphs">4</text>
<text x="209" y="595.0" font-size="76" text-anchor="end">10</text>
<text x="212.5" y="558.5" font-size="52" textLength="25.5" lengthAdjust="spacingAndGlyphs">5</text>
<text x="209" y="319.0" font-size="76" text-anchor="end">10</text>
<text x="212.5" y="282.5" font-size="52" textLength="25.5" lengthAdjust="spacingAndGlyphs">6</text>
<text x="1191.5" y="101" font-size="95" text-anchor="middle">Photon Energy (eV)</text>
<text x="1152.5" y="1756" font-size="88" text-anchor="middle">Wavelength (nm)</text>
<text transform="translate(97.9 914.5) rotate(-90)" font-size="95" text-anchor="middle">PL Intensity (Cnts/s)</text>
</svg></body></html>
